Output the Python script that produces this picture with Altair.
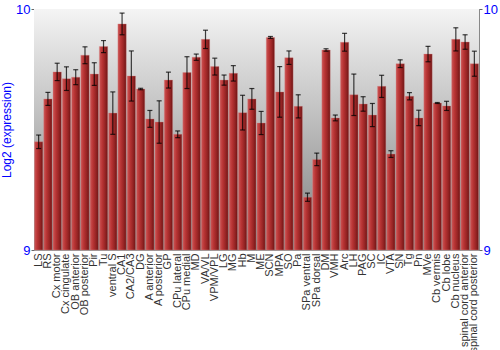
import altair as alt
import pandas as pd

regions = ["LS", "RS", "Cx motor", "Cx cingulate", "OB anterior", "OB posterior", "Pir", "Tu",
           "ventral S", "CA1", "CA2/CA3", "DG", "A anterior", "A posterior", "GP", "CPu lateral",
           "CPu medial", "MD", "VA/VL", "VPM/VPL", "LG", "MG", "Hb", "M", "ME", "SCN", "MPA", "SO",
           "Pa", "SPa ventral", "SPa dorsal", "DM", "VMH", "Arc", "LH", "PAG", "SC", "IC", "VTA",
           "SN", "Tg", "Pn", "MVe", "Cb vermis", "Cb lobe", "Cb nucleus", "spinal cord anterior",
           "spinal cord posterior"]
values = [9.449, 9.627, 9.739, 9.711, 9.717, 9.808, 9.730, 9.844,
          9.568, 9.938, 9.722, 9.668, 9.544, 9.531, 9.705, 9.480,
          9.736, 9.800, 9.874, 9.761, 9.705, 9.733, 9.570, 9.627, 9.527, 9.882, 9.656, 9.798,
          9.596, 9.219, 9.376, 9.830, 9.548, 9.862, 9.644, 9.606, 9.560, 9.679, 9.398,
          9.773, 9.638, 9.548, 9.813, 9.610, 9.598, 9.874, 9.863,
          9.773]
errors = [0.028, 0.027, 0.036, 0.049, 0.031, 0.035, 0.047, 0.025,
          0.088, 0.045, 0.104, 0.003, 0.035, 0.088, 0.033, 0.014,
          0.066, 0.013, 0.038, 0.035, 0.021, 0.032, 0.072, 0.043, 0.048, 0.004, 0.105, 0.028,
          0.048, 0.017, 0.026, 0.005, 0.012, 0.037, 0.086, 0.030, 0.048, 0.046, 0.014,
          0.016, 0.015, 0.032, 0.032, 0.002, 0.019, 0.048, 0.030,
          0.052]

df = pd.DataFrame({"region": regions, "value": values, "err": errors})
df["lo"] = df["value"] - df["err"]
df["hi"] = df["value"] + df["err"]
df["base"] = 9.0

blue = "#0000ff"
yscale = alt.Scale(domain=[9, 10], nice=False, zero=False)
xenc = alt.X("region:N", sort=regions, title=None,
             scale=alt.Scale(paddingInner=0.1, paddingOuter=0.05),
             axis=alt.Axis(labelAngle=-90, labelFontSize=11, labelColor="#333",
                           labelFont="Liberation Sans", ticks=False, domain=False,
                           labelPadding=3, labelOverlap=False, labelLimit=200))
xplain = alt.X("region:N", sort=regions)

bar_grad = alt.Gradient(
    gradient="linear", x1=0, y1=0, x2=1, y2=0,
    stops=[alt.GradientStop(color="#cc5555", offset=0),
           alt.GradientStop(color="#b83434", offset=0.35),
           alt.GradientStop(color="#962424", offset=0.7),
           alt.GradientStop(color="#6e1414", offset=1)])

bg_grad = alt.Gradient(
    gradient="linear", x1=0, y1=0, x2=0, y2=1,
    stops=[alt.GradientStop(color="#f4f4f4", offset=0),
           alt.GradientStop(color="#7e7e7e", offset=1)])

bg = alt.Chart(pd.DataFrame({"k": [0]})).mark_rect(fill=bg_grad).encode(
    x=alt.value(0), x2=alt.value("width"), y=alt.value(0), y2=alt.value("height"))

bars = alt.Chart(df).mark_bar(color=bar_grad, stroke="#d58a8a", strokeWidth=0.6,
                              strokeOpacity=0.6).encode(
    x=xenc,
    y=alt.Y("value:Q", scale=yscale, title="Log2 (expression)",
            axis=alt.Axis(values=[9, 10], format="d", orient="left", titleColor=blue,
                          labelColor=blue, labelFontSize=13, titleFontSize=12,
                          titleFontWeight="normal", titleFont="Liberation Sans",
                          labelFont="Liberation Sans", grid=False, domainColor="#888",
                          tickColor="#666", tickSize=3, titlePadding=2, labelPadding=1)),
    y2=alt.Y2("base:Q"),
)

rules = alt.Chart(df).mark_rule(color="#000", strokeWidth=1.2, opacity=0.75).encode(
    x=xplain,
    y=alt.Y("lo:Q", scale=yscale,
            axis=alt.Axis(values=[9, 10], format="d", orient="right", title=None,
                          labelColor=blue, labelFontSize=13, labelFont="Liberation Sans",
                          grid=False, domainColor="#888", tickColor="#666", tickSize=3,
                          labelPadding=1)),
    y2="hi:Q",
)
caps_lo = alt.Chart(df).mark_tick(color="#000", thickness=1.2, size=5, opacity=0.75).encode(
    x=xplain, y=alt.Y("lo:Q", scale=yscale, axis=None))
caps_hi = alt.Chart(df).mark_tick(color="#000", thickness=1.2, size=5, opacity=0.75).encode(
    x=xplain, y=alt.Y("hi:Q", scale=yscale, axis=None))

chart = alt.layer(bg, bars, rules, caps_lo, caps_hi).resolve_axis(y="independent").properties(
    width=445, height=241,
    autosize=alt.AutoSizeParams(type="none"),
    padding={"left": 34, "top": 9, "right": 21, "bottom": 100},
    background="white",
).configure_view(stroke="#999", strokeWidth=1)

chart.save("out.html", embed_options={"renderer": "svg", "actions": False})
